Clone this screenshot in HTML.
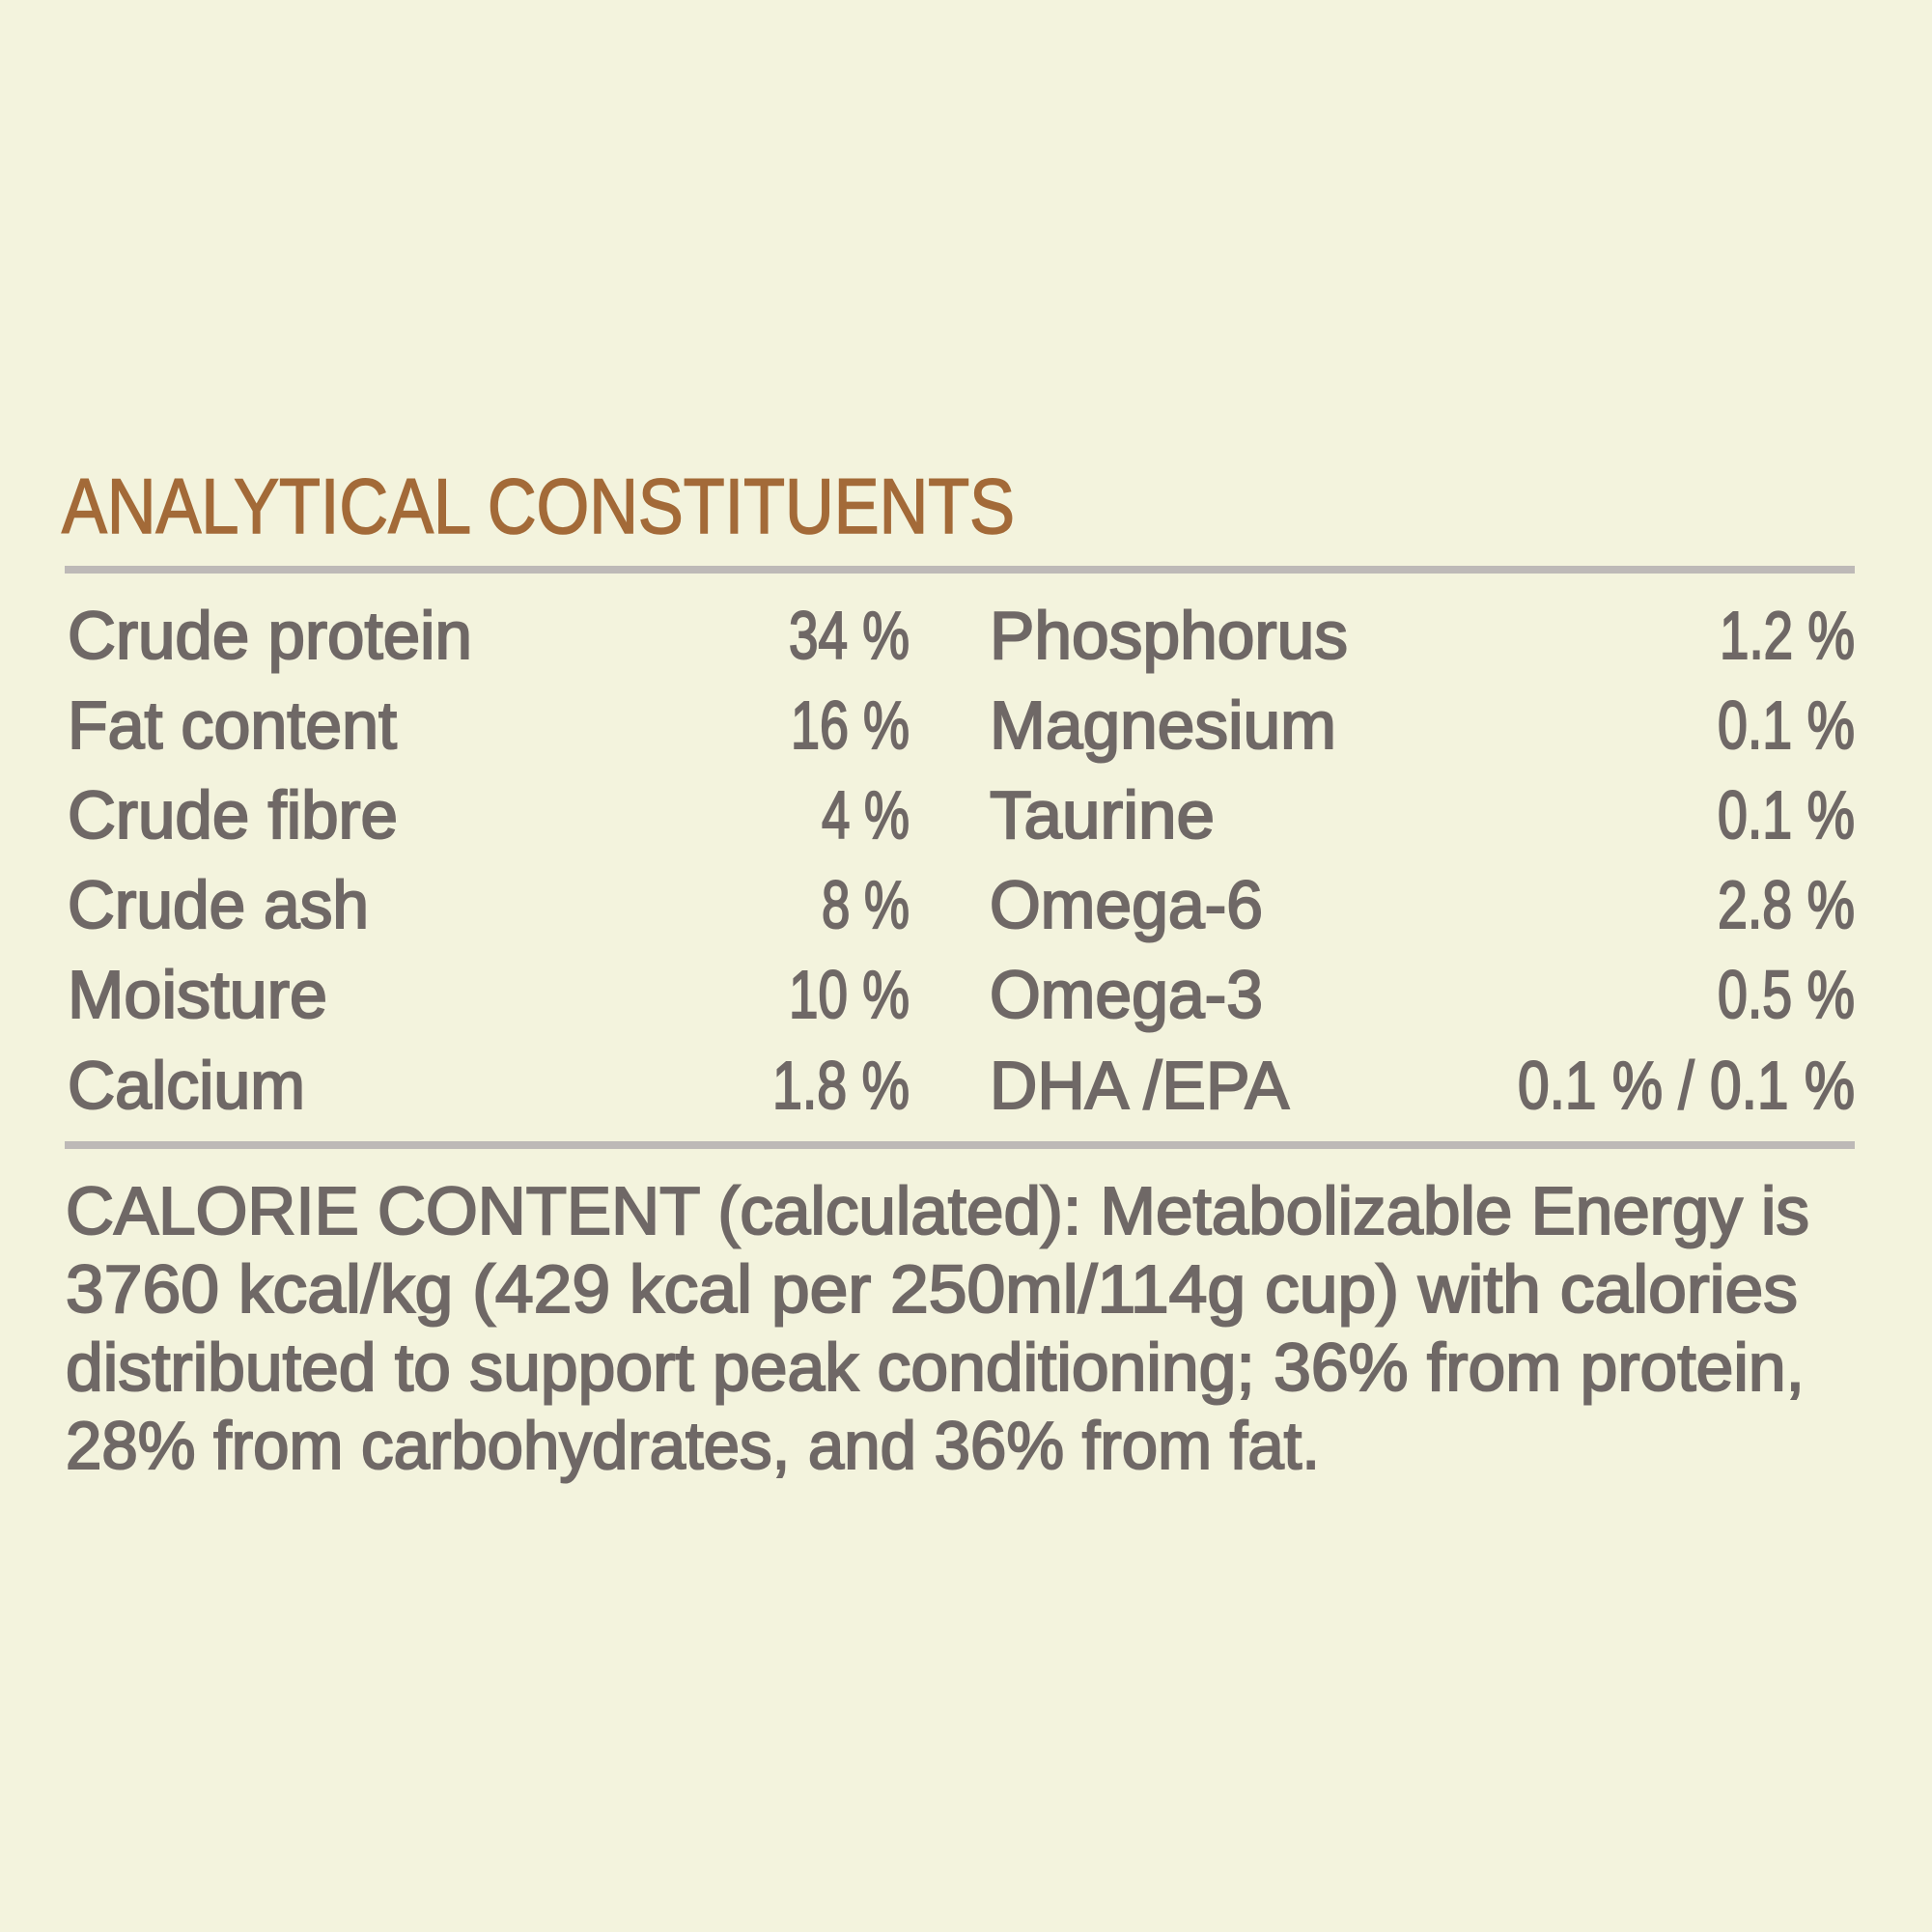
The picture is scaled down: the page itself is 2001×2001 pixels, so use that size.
<!DOCTYPE html>
<html>
<head>
<meta charset="utf-8">
<style>
html,body{margin:0;padding:0;background:#F3F3DD;}
svg{display:block;}
text{font-family:"Liberation Sans", sans-serif;}
.t{fill:#6F6866;stroke:#6F6866;stroke-width:2.1;font-size:70px;}
</style>
</head>
<body>
<svg width="2001" height="2001" viewBox="0 0 2001 2001" xmlns="http://www.w3.org/2000/svg">
<rect x="0" y="0" width="2001" height="2001" fill="#F3F3DD"/>
<text x="64" y="552" font-size="81" fill="#A36A38" stroke="#A36A38" stroke-width="1.6" textLength="987" lengthAdjust="spacingAndGlyphs">ANALYTICAL CONSTITUENTS</text>
<rect x="67" y="586" width="1854" height="8" fill="#BDB9B7"/>

<text class="t" x="70" y="682" textLength="419" lengthAdjust="spacingAndGlyphs">Crude protein</text>
<text class="t" x="817" y="682" textLength="125" lengthAdjust="spacingAndGlyphs">34 %</text>
<text class="t" x="1025" y="682" textLength="371" lengthAdjust="spacingAndGlyphs">Phosphorus</text>
<text class="t" x="1781" y="682" textLength="140" lengthAdjust="spacingAndGlyphs">1.2 %</text>

<text class="t" x="70" y="775" textLength="341" lengthAdjust="spacingAndGlyphs">Fat content</text>
<text class="t" x="819" y="775" textLength="123" lengthAdjust="spacingAndGlyphs">16 %</text>
<text class="t" x="1025" y="775" textLength="359" lengthAdjust="spacingAndGlyphs">Magnesium</text>
<text class="t" x="1779" y="775" textLength="142" lengthAdjust="spacingAndGlyphs">0.1 %</text>

<text class="t" x="70" y="868" textLength="342" lengthAdjust="spacingAndGlyphs">Crude fibre</text>
<text class="t" x="851" y="868" textLength="91" lengthAdjust="spacingAndGlyphs">4 %</text>
<text class="t" x="1025" y="868" textLength="233" lengthAdjust="spacingAndGlyphs">Taurine</text>
<text class="t" x="1779" y="868" textLength="142" lengthAdjust="spacingAndGlyphs">0.1 %</text>

<text class="t" x="70" y="961" textLength="312" lengthAdjust="spacingAndGlyphs">Crude ash</text>
<text class="t" x="851" y="961" textLength="91" lengthAdjust="spacingAndGlyphs">8 %</text>
<text class="t" x="1025" y="961" textLength="283" lengthAdjust="spacingAndGlyphs">Omega-6</text>
<text class="t" x="1779" y="961" textLength="142" lengthAdjust="spacingAndGlyphs">2.8 %</text>

<text class="t" x="70" y="1054" textLength="269" lengthAdjust="spacingAndGlyphs">Moisture</text>
<text class="t" x="817" y="1054" textLength="125" lengthAdjust="spacingAndGlyphs">10 %</text>
<text class="t" x="1025" y="1054" textLength="283" lengthAdjust="spacingAndGlyphs">Omega-3</text>
<text class="t" x="1779" y="1054" textLength="142" lengthAdjust="spacingAndGlyphs">0.5 %</text>

<text class="t" x="70" y="1148" textLength="246" lengthAdjust="spacingAndGlyphs">Calcium</text>
<text class="t" x="800" y="1148" textLength="142" lengthAdjust="spacingAndGlyphs">1.8 %</text>
<text class="t" x="1025" y="1148" textLength="310" lengthAdjust="spacingAndGlyphs">DHA /EPA</text>
<text class="t" x="1572" y="1148" textLength="349" lengthAdjust="spacingAndGlyphs">0.1 % / 0.1 %</text>

<rect x="67" y="1182" width="1854" height="8" fill="#BDB9B7"/>

<text class="t" x="68" y="1278" textLength="1806" lengthAdjust="spacingAndGlyphs">CALORIE CONTENT (calculated): Metabolizable Energy is</text>
<text class="t" x="68" y="1359" textLength="1794" lengthAdjust="spacingAndGlyphs">3760 kcal/kg (429 kcal per 250ml/114g cup) with calories</text>
<text class="t" x="68" y="1440" textLength="1801" lengthAdjust="spacingAndGlyphs">distributed to support peak conditioning; 36% from protein,</text>
<text class="t" x="68" y="1521" textLength="1299" lengthAdjust="spacingAndGlyphs">28% from carbohydrates, and 36% from fat.</text>
</svg>
</body>
</html>
